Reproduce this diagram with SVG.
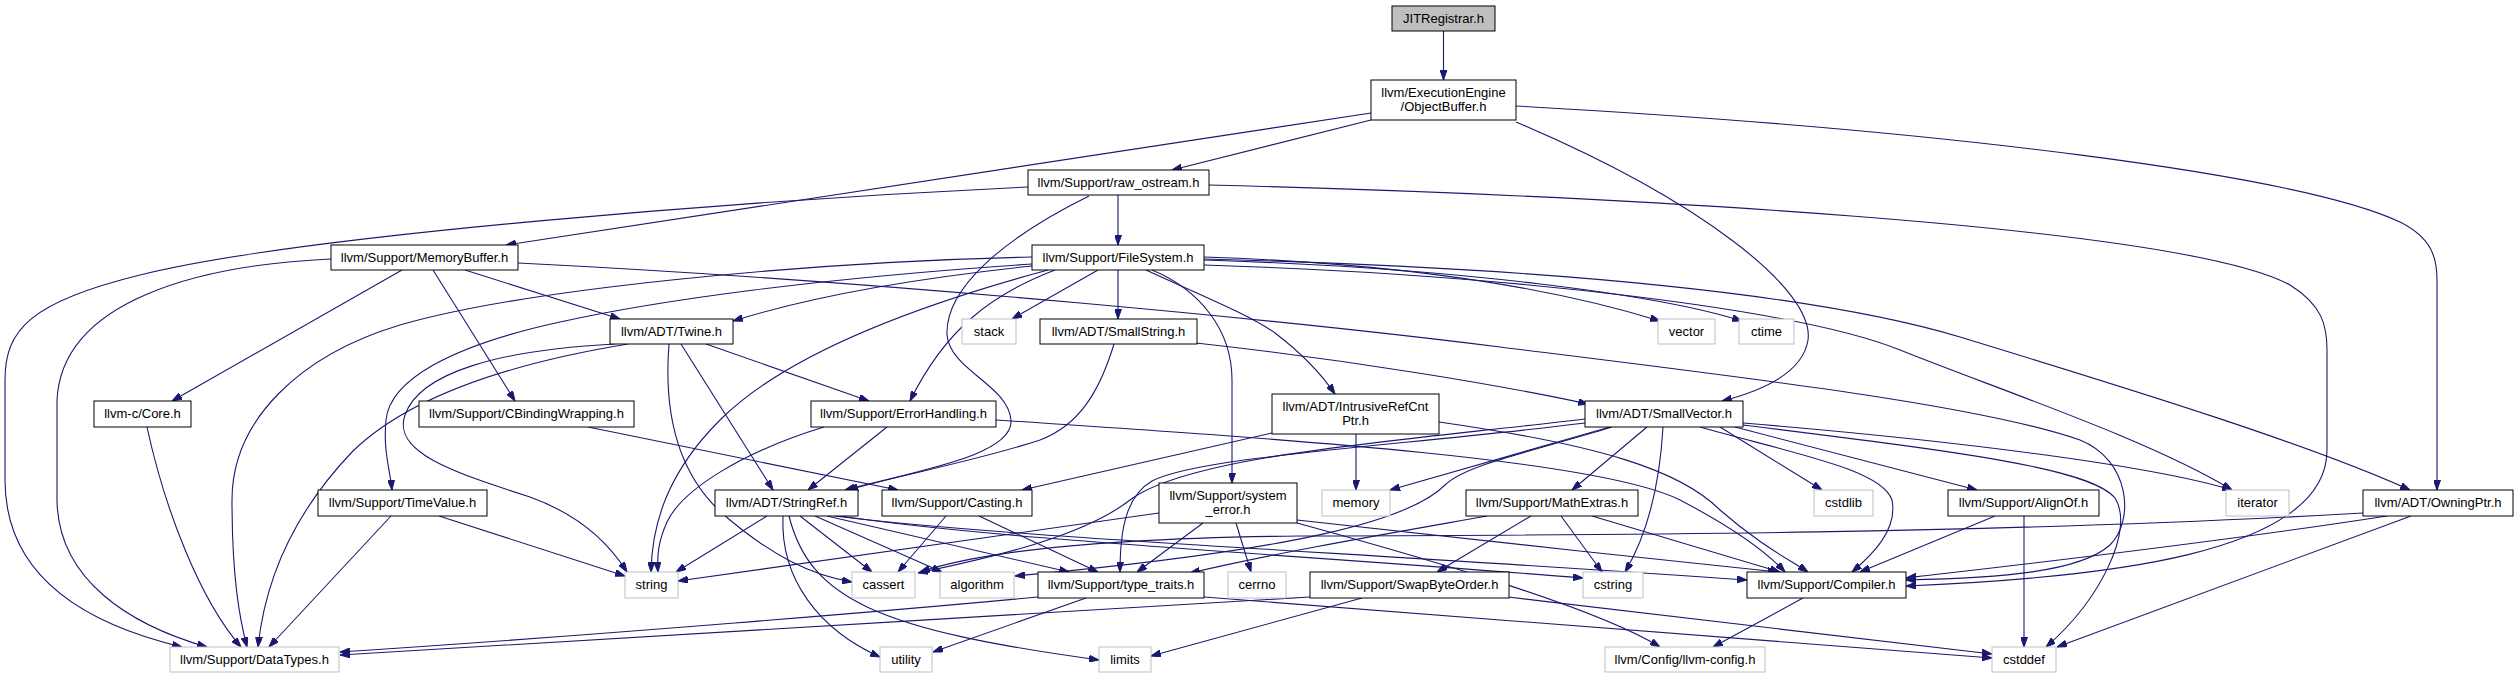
<svg xmlns="http://www.w3.org/2000/svg" width="2519" height="679" viewBox="0 0 2519 679">
<style>
.n rect{fill:#fff;stroke:#000;stroke-width:1}
.g rect{fill:#fff;stroke:#bfbfbf;stroke-width:1}
.r rect{fill:#bfbfbf;stroke:#000;stroke-width:1}
text{font-family:"Liberation Sans",Arial,sans-serif;font-size:13px;text-anchor:middle;fill:#000}
#edges path{fill:none;stroke:#191970;stroke-width:1.1;marker-end:url(#a)}
</style>
<defs>
<marker id="a" viewBox="0 0 10 7" refX="10" refY="3.5" markerWidth="10" markerHeight="7" markerUnits="userSpaceOnUse" orient="auto"><path d="M0,0 L10,3.5 L0,7 z" fill="#191970" stroke="#191970"/></marker>
</defs>
<rect width="2519" height="679" fill="#fff"/>
<g id="edges">
<path d="M1443.5,31 L1443.5,80"/>
<path d="M1371,113 L506,245"/>
<path d="M1371,120 L1172,170"/>
<path d="M1516,122 C1700,200 1815,290 1808,340 C1803,372 1765,390 1722,401"/>
<path d="M1516,106 C1950,130 2300,175 2400,222 C2432,238 2437,258 2437,280 L2437,490"/>
<path d="M1118,195 L1118,245"/>
<path d="M1028,187 C750,200 300,235 140,275 C30,302 5,330 5,380 L5,480 C5,580 90,625 182,647"/>
<path d="M1089,196 C1000,240 945,290 947,335 C950,370 1008,385 1011,420 C1014,455 920,470 845,490"/>
<path d="M1209,185 C1600,195 2180,225 2290,285 C2322,305 2327,325 2327,350 L2327,450 C2327,555 2100,578 1906,586"/>
<path d="M402,270 L172,401"/>
<path d="M433,270 L515,401"/>
<path d="M465,270 L620,319"/>
<path d="M331,259 C200,265 62,300 57,400 L57,500 C58,580 130,625 207,647"/>
<path d="M518,263 C900,282 1300,322 1500,347 C1750,378 1980,405 2080,440 C2130,460 2135,520 2110,545 C2080,572 2000,578 1906,580"/>
<path d="M1032,266 C900,280 800,300 733,321"/>
<path d="M1032,257 C800,262 520,290 400,325 C300,355 232,420 232,500 C232,580 240,620 247,647"/>
<path d="M1032,264 C820,278 660,300 560,322 C450,346 390,380 386,420 C383,450 390,470 392,490"/>
<path d="M1048,270 C900,310 780,360 720,420 C670,470 652,520 651,572"/>
<path d="M1055,270 C990,295 945,330 910,401"/>
<path d="M1098,270 L1012,319"/>
<path d="M1118,270 L1118,319"/>
<path d="M1146,270 C1200,295 1250,315 1275,333 C1300,352 1322,375 1335,394"/>
<path d="M1152,270 C1200,290 1232,330 1232,380 L1232,483"/>
<path d="M1204,257 C1420,264 1560,290 1660,321"/>
<path d="M1204,260 C1460,268 1660,295 1742,321"/>
<path d="M1204,265 C1520,275 1800,310 1900,350 C2000,390 2150,440 2232,490"/>
<path d="M1204,259 C1560,268 1820,295 1960,337 C2150,395 2310,445 2410,490"/>
<path d="M681,344 L773,490"/>
<path d="M706,344 L869,401"/>
<path d="M669,344 C663,420 680,480 730,520 C772,555 810,575 852,582"/>
<path d="M615,344 C500,350 420,372 405,415 C392,452 452,472 530,497 C580,515 610,545 627,572"/>
<path d="M628,344 C500,365 405,400 352,452 C292,515 265,580 258,647"/>
<path d="M588,427 L898,490"/>
<path d="M887,427 L808,490"/>
<path d="M824,427 C742,452 682,490 667,522 C658,542 657,556 658,572"/>
<path d="M996,420 C1300,440 1600,460 1680,500 C1722,522 1760,545 1785,572"/>
<path d="M1114,344 C1100,390 1080,425 1040,440 C980,460 900,475 848,490"/>
<path d="M1196,343 C1350,360 1500,385 1588,404"/>
<path d="M1356,434 L1356,490"/>
<path d="M1272,433 L1022,490"/>
<path d="M1439,422 C1600,445 1680,470 1720,510 C1760,545 1790,560 1808,572"/>
<path d="M1610,427 L1390,490"/>
<path d="M1647,427 L1572,490"/>
<path d="M1663,427 C1660,480 1650,530 1625,572"/>
<path d="M1585,423 C1400,446 1200,456 1152,481 C1126,496 1120,530 1120,572"/>
<path d="M1585,419 C1400,441 1190,455 1130,500 C1085,535 1000,556 918,573"/>
<path d="M1612,427 C1530,452 1465,465 1445,485 C1410,520 1300,550 1015,576"/>
<path d="M1720,427 L1822,490"/>
<path d="M1735,427 L1977,490"/>
<path d="M1700,427 C1800,455 1882,470 1892,500 C1898,530 1872,555 1852,572"/>
<path d="M1743,425 C1960,452 2090,468 2115,498 C2135,530 2100,600 2046,647"/>
<path d="M1743,423 C1950,440 2150,465 2232,490"/>
<path d="M391,516 L269,647"/>
<path d="M439,516 L625,576"/>
<path d="M147,427 C165,510 200,600 241,647"/>
<path d="M767,516 L676,572"/>
<path d="M783,516 C780,580 820,630 880,657"/>
<path d="M789,516 C810,600 880,630 1099,660"/>
<path d="M800,516 L872,572"/>
<path d="M815,516 L942,572"/>
<path d="M827,516 L1069,572"/>
<path d="M840,516 C1000,540 1300,555 1583,578"/>
<path d="M835,516 C1000,537 1350,552 1747,580"/>
<path d="M946,516 L898,572"/>
<path d="M979,516 L1098,572"/>
<path d="M1159,513 L678,581"/>
<path d="M1203,523 L1137,572"/>
<path d="M1236,523 L1251,572"/>
<path d="M1297,520 C1450,538 1620,555 1778,572"/>
<path d="M1297,523 C1450,565 1600,610 1660,647"/>
<path d="M1531,516 L1437,572"/>
<path d="M1561,516 L1602,572"/>
<path d="M1592,516 L1780,572"/>
<path d="M1487,516 C1380,535 1280,552 1190,573"/>
<path d="M1310,597 C1000,615 600,640 340,655"/>
<path d="M1362,598 L1151,656"/>
<path d="M1508,597 C1700,620 1900,642 1992,654"/>
<path d="M1038,597 C900,610 600,635 340,652"/>
<path d="M1086,598 L933,652"/>
<path d="M1204,597 C1500,620 1800,645 1992,658"/>
<path d="M1803,598 L1713,647"/>
<path d="M1995,516 L1860,572"/>
<path d="M2024,516 L2024,647"/>
<path d="M2387,516 C2200,545 2000,567 1906,578"/>
<path d="M2363,513 C2000,534 1600,535 1300,536 C1100,538 980,552 920,572"/>
<path d="M2411,516 L2057,647"/>
</g>
<g id="JITRegistrar" class="r"><rect x="1392" y="6" width="103" height="25"/><text x="1443.5" y="23">JITRegistrar.h</text></g>
<g id="ObjectBuffer" class="n"><rect x="1371" y="80" width="145" height="40"/><text x="1443.5" y="97">llvm/ExecutionEngine</text><text x="1443.5" y="111">/ObjectBuffer.h</text></g>
<g id="raw_ostream" class="n"><rect x="1028" y="170" width="181" height="25"/><text x="1118.5" y="187">llvm/Support/raw_ostream.h</text></g>
<g id="MemoryBuffer" class="n"><rect x="331" y="245" width="187" height="25"/><text x="424.5" y="262">llvm/Support/MemoryBuffer.h</text></g>
<g id="FileSystem" class="n"><rect x="1032" y="245" width="172" height="25"/><text x="1118" y="262">llvm/Support/FileSystem.h</text></g>
<g id="Twine" class="n"><rect x="610" y="319" width="123" height="25"/><text x="671.5" y="336">llvm/ADT/Twine.h</text></g>
<g id="stack" class="g"><rect x="962" y="319" width="54" height="25"/><text x="989" y="336">stack</text></g>
<g id="SmallString" class="n"><rect x="1040" y="319" width="157" height="25"/><text x="1118.5" y="336">llvm/ADT/SmallString.h</text></g>
<g id="vector" class="g"><rect x="1658" y="319" width="57" height="25"/><text x="1686.5" y="336">vector</text></g>
<g id="ctime" class="g"><rect x="1739" y="319" width="55" height="25"/><text x="1766.5" y="336">ctime</text></g>
<g id="Core" class="n"><rect x="94" y="401" width="97" height="26"/><text x="142.5" y="418">llvm-c/Core.h</text></g>
<g id="CBindingWrapping" class="n"><rect x="419" y="401" width="215" height="26"/><text x="526.5" y="418">llvm/Support/CBindingWrapping.h</text></g>
<g id="ErrorHandling" class="n"><rect x="811" y="401" width="185" height="26"/><text x="903.5" y="418">llvm/Support/ErrorHandling.h</text></g>
<g id="IntrusiveRefCntPtr" class="n"><rect x="1272" y="394" width="167" height="40"/><text x="1355.5" y="411">llvm/ADT/IntrusiveRefCnt</text><text x="1355.5" y="425">Ptr.h</text></g>
<g id="SmallVector" class="n"><rect x="1585" y="401" width="158" height="26"/><text x="1664" y="418">llvm/ADT/SmallVector.h</text></g>
<g id="TimeValue" class="n"><rect x="318" y="490" width="169" height="26"/><text x="402.5" y="507">llvm/Support/TimeValue.h</text></g>
<g id="StringRef" class="n"><rect x="715" y="490" width="143" height="26"/><text x="786.5" y="507">llvm/ADT/StringRef.h</text></g>
<g id="Casting" class="n"><rect x="882" y="490" width="150" height="26"/><text x="957" y="507">llvm/Support/Casting.h</text></g>
<g id="system_error" class="n"><rect x="1159" y="483" width="138" height="40"/><text x="1228" y="500">llvm/Support/system</text><text x="1228" y="514">_error.h</text></g>
<g id="memory" class="g"><rect x="1322" y="490" width="68" height="26"/><text x="1356" y="507">memory</text></g>
<g id="MathExtras" class="n"><rect x="1466" y="490" width="172" height="26"/><text x="1552" y="507">llvm/Support/MathExtras.h</text></g>
<g id="cstdlib" class="g"><rect x="1814" y="490" width="59" height="26"/><text x="1843.5" y="507">cstdlib</text></g>
<g id="AlignOf" class="n"><rect x="1948" y="490" width="151" height="26"/><text x="2023.5" y="507">llvm/Support/AlignOf.h</text></g>
<g id="iterator" class="g"><rect x="2226" y="490" width="63" height="26"/><text x="2257.5" y="507">iterator</text></g>
<g id="OwningPtr" class="n"><rect x="2363" y="490" width="150" height="26"/><text x="2438" y="507">llvm/ADT/OwningPtr.h</text></g>
<g id="string" class="g"><rect x="625" y="572" width="53" height="26"/><text x="651.5" y="589">string</text></g>
<g id="cassert" class="g"><rect x="852" y="572" width="63" height="26"/><text x="883.5" y="589">cassert</text></g>
<g id="algorithm" class="g"><rect x="940" y="572" width="74" height="26"/><text x="977" y="589">algorithm</text></g>
<g id="type_traits" class="n"><rect x="1038" y="572" width="166" height="26"/><text x="1121" y="589">llvm/Support/type_traits.h</text></g>
<g id="cerrno" class="g"><rect x="1228" y="572" width="58" height="26"/><text x="1257" y="589">cerrno</text></g>
<g id="SwapByteOrder" class="n"><rect x="1310" y="572" width="199" height="26"/><text x="1409.5" y="589">llvm/Support/SwapByteOrder.h</text></g>
<g id="cstring" class="g"><rect x="1583" y="572" width="60" height="26"/><text x="1613" y="589">cstring</text></g>
<g id="Compiler" class="n"><rect x="1747" y="572" width="159" height="26"/><text x="1826.5" y="589">llvm/Support/Compiler.h</text></g>
<g id="DataTypes" class="g"><rect x="170" y="647" width="169" height="25"/><text x="254.5" y="664">llvm/Support/DataTypes.h</text></g>
<g id="utility" class="g"><rect x="880" y="647" width="52" height="25"/><text x="906" y="664">utility</text></g>
<g id="limits" class="g"><rect x="1099" y="647" width="52" height="25"/><text x="1125" y="664">limits</text></g>
<g id="llvm-config" class="g"><rect x="1605" y="647" width="160" height="25"/><text x="1685" y="664">llvm/Config/llvm-config.h</text></g>
<g id="cstddef" class="g"><rect x="1992" y="647" width="64" height="25"/><text x="2024" y="664">cstddef</text></g>
</svg>
